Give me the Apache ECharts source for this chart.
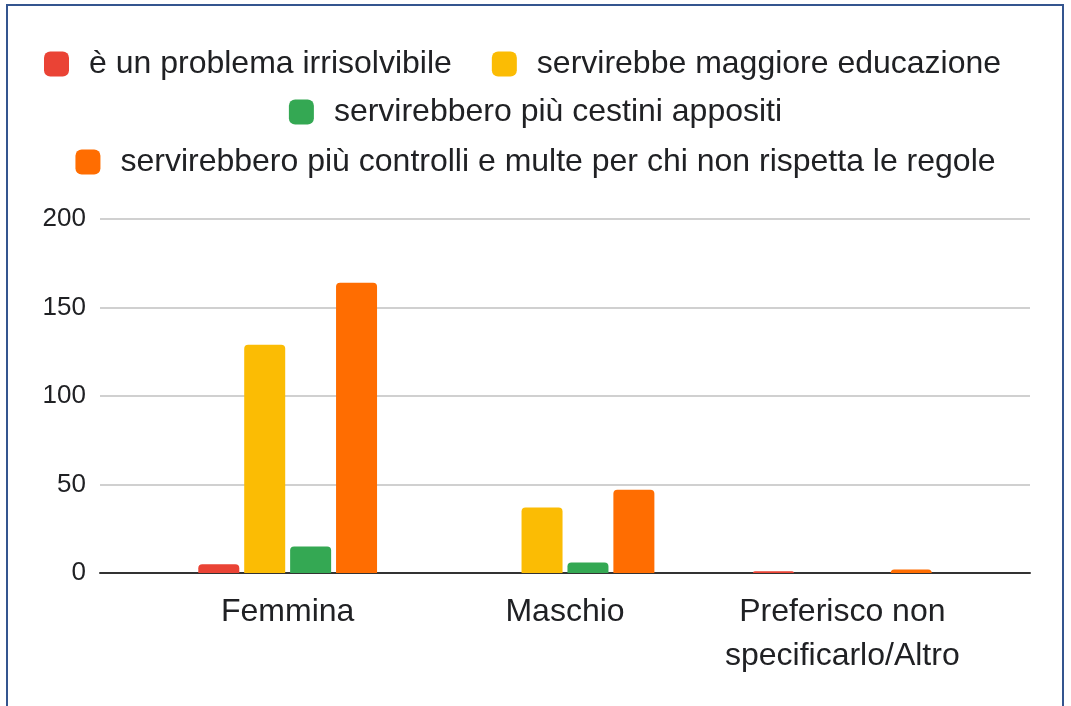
<!DOCTYPE html>
<html>
<head>
<meta charset="utf-8">
<script src="https://cdn.jsdelivr.net/npm/echarts@6/dist/echarts.min.js"></script>
<style>
  html, body { margin: 0; padding: 0; background: #fff; }
  #chart { width: 1071px; height: 706px; }
</style>
</head>
<body>
<div id="chart"></div>
<script>
// -----------------------------
// DATA
// -----------------------------
const categories = ["Femmina", "Maschio", "Preferisco non\nspecificarlo/Altro"];
const seriesNames = [
  "è un problema irrisolvibile",
  "servirebbe maggiore educazione",
  "servirebbero più cestini appositi",
  "servirebbero più controlli e multe per chi non rispetta le regole"
];
const irrisolvibile = [5, 0, 1];
const educazione = [129, 37, 0];
const cestini = [15, 6, 0];
const controlli = [164, 47, 2];
const yTicks = [0, 50, 100, 150, 200];

const colors = ["#ea4335", "#fbbc04", "#34a853", "#ff6d01"];
const FONT = 'Arial, "Liberation Sans", sans-serif';

const chart = echarts.init(document.getElementById("chart"));

function legendRow(names, top, left) {
  return {
    data: names,
    top: top,
    left: left,
    padding: 0,
    itemWidth: 25,
    itemHeight: 25,
    itemGap: 40,
    icon: "roundRect",
    selectedMode: false,
    textStyle: {
      fontFamily: FONT,
      fontSize: 32,
      color: "#202124",
      lineHeight: 36,
      padding: [0, 0, 0, 15]
    }
  };
}

const values = [irrisolvibile, educazione, cestini, controlli];

chart.setOption({
  animation: false,
  color: colors,
  legend: [
    legendRow(seriesNames.slice(0, 2), 46, 44),
    legendRow([seriesNames[2]], 94, "center"),
    legendRow([seriesNames[3]], 144, "center")
  ],
  // grid 0 spans the gridlines, grid 1 holds the bars (Google-style inset)
  grid: [
    { left: 100, right: 41, top: 219, height: 354 },
    { left: 149, right: 90, top: 219, height: 354 }
  ],
  xAxis: [
    {
      type: "category",
      gridIndex: 0,
      data: [""],
      axisTick: { show: false },
      axisLabel: { show: false },
      axisLine: { lineStyle: { color: "#333", width: 2 } }
    },
    {
      type: "category",
      gridIndex: 1,
      data: categories,
      axisTick: { show: false },
      axisLine: { show: false },
      axisLabel: {
        fontFamily: FONT,
        fontSize: 32,
        lineHeight: 44,
        color: "#202124",
        margin: 17,
        interval: 0
      }
    }
  ],
  yAxis: [
    {
      type: "value",
      gridIndex: 0,
      min: yTicks[0],
      max: yTicks[yTicks.length - 1],
      interval: 50,
      axisLine: { show: false },
      axisTick: { show: false },
      axisLabel: { fontFamily: FONT, fontSize: 26, color: "#202124", margin: 14 },
      splitLine: { lineStyle: { color: "#d0d0d0", width: 2 } }
    },
    {
      type: "value",
      gridIndex: 1,
      min: yTicks[0],
      max: yTicks[yTicks.length - 1],
      interval: 50,
      show: false,
      splitLine: { show: false }
    }
  ],
  series: seriesNames.map((name, i) => ({
    name: name,
    type: "bar",
    xAxisIndex: 1,
    yAxisIndex: 1,
    barWidth: 41,
    barGap: "12%",
    data: values[i],
    itemStyle: { color: colors[i], borderRadius: [4, 4, 0, 0] }
  })),
  graphic: [
    {
      type: "rect",
      shape: { x: 7, y: 5, width: 1056, height: 740 },
      style: { fill: "none", stroke: "#34558f", lineWidth: 2 },
      silent: true
    }
  ]
});
</script>
</body>
</html>
